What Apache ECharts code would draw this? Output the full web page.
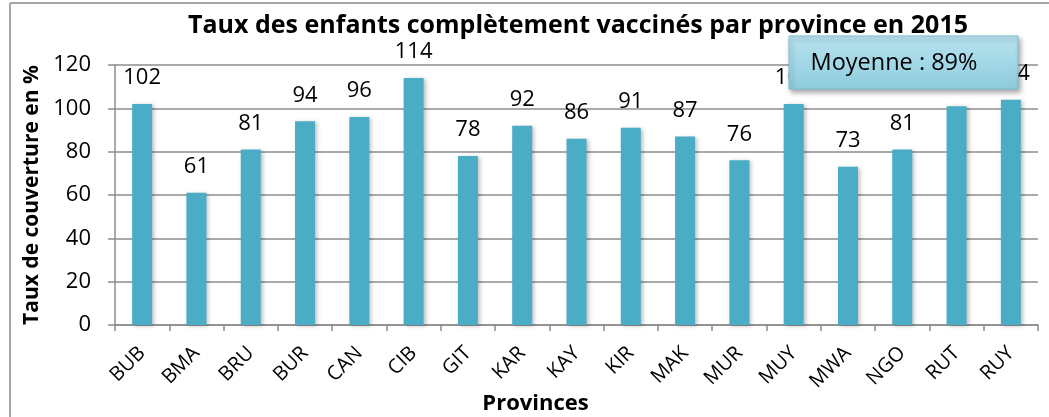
<!DOCTYPE html>
<html>
<head>
<meta charset="utf-8">
<script src="https://cdn.jsdelivr.net/npm/echarts@6/dist/echarts.min.js"></script>
<style>
  html, body { margin: 0; padding: 0; background: #fff; }
  #chart { width: 1049px; height: 417px; }
</style>
</head>
<body>
<div id="chart"></div>
<script>
var provinces = ["BUB", "BMA", "BRU", "BUR", "CAN", "CIB", "GIT", "KAR", "KAY", "KIR", "MAK", "MUR", "MUY", "MWA", "NGO", "RUT", "RUY"]
var taux = [102, 61, 81, 94, 96, 114, 78, 92, 86, 91, 87, 76, 102, 73, 81, 101, 104]
var yTicks = [0, 20, 40, 60, 80, 100, 120]
var moyenne = 89

var myChart = echarts.init(document.getElementById("chart"))
var font = "'Open Sans', sans-serif"

var option = {
  backgroundColor: "#ffffff",
  textStyle: { fontFamily: font },
  title: {
    text: "Taux des enfants complètement vaccinés par province en 2015",
    left: 573,
    textAlign: "center",
    top: 8,
    textStyle: { fontFamily: font, fontSize: 25, fontWeight: "bold", color: "#000" }
  },
  grid: { left: 115, right: 11, top: 65, bottom: 92, outerBoundsMode: "none" },
  xAxis: {
    type: "category",
    data: provinces,
    name: "Provinces",
    nameLocation: "middle",
    nameGap: 68,
    nameMoveOverlap: false,
    nameTextStyle: { fontFamily: font, fontSize: 22, fontWeight: "bold", color: "#000", padding: [0, 82, 0, 0] },
    axisLine: { lineStyle: { color: "#8c8c8c", width: 1.5 } },
    axisTick: { show: true, length: 6, lineStyle: { color: "#8c8c8c", width: 1.5 } },
    axisLabel: { rotate: 45, margin: 25, fontSize: 20, color: "#000", fontFamily: font }
  },
  yAxis: {
    type: "value",
    min: yTicks[0],
    max: yTicks[yTicks.length - 1],
    interval: yTicks[1] - yTicks[0],
    name: "Taux de couverture en %",
    nameLocation: "middle",
    nameGap: 72,
    nameMoveOverlap: false,
    nameTextStyle: { fontFamily: font, fontSize: 21, fontWeight: "bold", color: "#000" },
    axisLine: { show: true, lineStyle: { color: "#8c8c8c", width: 1.5 } },
    axisTick: { show: true, length: 7, lineStyle: { color: "#8c8c8c", width: 1.5 } },
    axisLabel: { margin: 24, fontSize: 22, color: "#000", fontFamily: font },
    splitLine: { lineStyle: { color: "#8c8c8c", width: 1.5 } }
  },
  series: [
    {
      type: "bar",
      data: taux,
      barWidth: 20,
      itemStyle: {
        color: "#4bacc6",
        shadowColor: "rgba(0,0,0,0.25)",
        shadowBlur: 4,
        shadowOffsetX: 2,
        shadowOffsetY: 1
      },
      label: {
        show: true,
        position: "top",
        distance: 15,
        fontSize: 22,
        color: "#000",
        fontFamily: font
      }
    }
  ],
  graphic: [
    {
      type: "line",
      z: 200,
      shape: { x1: 10, y1: 3, x2: 10, y2: 417 },
      style: { stroke: "#a6a6a6", lineWidth: 2 }
    },
    {
      type: "line",
      z: 200,
      shape: { x1: 10, y1: 3, x2: 1049, y2: 3 },
      style: { stroke: "#a6a6a6", lineWidth: 2 }
    },
    {
      type: "rect",
      z: 200,
      shape: { x: 789, y: 36, width: 229, height: 53 },
      style: {
        fill: new echarts.graphic.LinearGradient(0, 0, 0, 1, [
          { offset: 0, color: "#b8e2ee" },
          { offset: 0.5, color: "#a3d8e7" },
          { offset: 1, color: "#8ccbdc" }
        ]),
        stroke: "#7fbfd1",
        lineWidth: 1,
        shadowColor: "rgba(0,0,0,0.35)",
        shadowBlur: 5,
        shadowOffsetX: 2,
        shadowOffsetY: 3
      }
    },
    {
      type: "text",
      z: 201,
      x: 894,
      y: 63,
      style: {
        text: "Moyenne : " + moyenne + "%",
        fontFamily: font,
        fontSize: 23.5,
        fill: "#000",
        align: "center",
        verticalAlign: "middle"
      }
    }
  ]
}
myChart.setOption(option)
</script>
</body>
</html>
